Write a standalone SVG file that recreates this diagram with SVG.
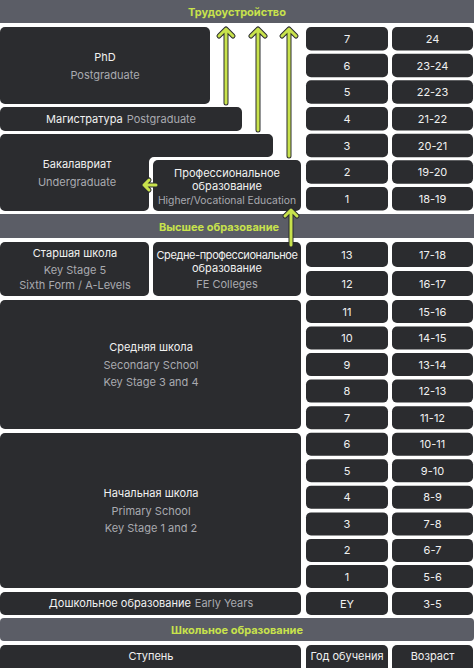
<svg xmlns="http://www.w3.org/2000/svg" width="474" height="668" viewBox="0 0 474 668">
<style>
.bx{fill:#2b2c2f}
.bar{fill:#5b5d66}
text{font-family:Inter,"Noto Sans",sans-serif;font-size:11px;text-anchor:middle;dominant-baseline:central}
.w{fill:#f1f1f1}
.g{fill:#a9aaaf}
.h{fill:#c8e24c;font-weight:700;font-size:11px}
.sm{font-size:10.3px}
.ao{fill:none;stroke:#2b2c2f;stroke-width:5;stroke-linecap:round;stroke-linejoin:round}
.ai{fill:none;stroke:#c8e24c;stroke-width:3;stroke-linecap:round;stroke-linejoin:round}
</style>
<rect width="474" height="668" fill="#ffffff"/>
<g id="bar-top"><rect class="bar" x="0" y="0" width="474" height="23"/><text class="h" x="237" y="12">Трудоустройство</text></g>
<g id="bar-higher"><rect class="bar" x="0" y="214" width="474" height="24"/><text class="h" x="219" y="227">Высшее образование</text></g>
<g id="bar-school"><rect class="bar" x="0" y="618" width="474" height="23" rx="4"/><text class="h" x="237" y="630">Школьное образование</text></g>

<g id="phd"><rect class="bx" x="0" y="27" width="210" height="77" rx="5"/><text class="w" x="105" y="57">PhD</text><text class="g" x="105" y="75">Postgraduate</text></g>
<g id="masters"><rect class="bx" x="0" y="107" width="242" height="24" rx="5"/><text x="121" y="119"><tspan class="w">Магистратура</tspan><tspan class="g" dx="4">Postgraduate</tspan></text></g>
<g id="bachelor"><path class="bx" d="M5,134 H268 A5,5 0 0 1 273,139 V152 A5,5 0 0 1 268,157 H154 A5,5 0 0 0 149,162 V206 A5,5 0 0 1 144,211 H5 A5,5 0 0 1 0,206 V139 A5,5 0 0 1 5,134 Z"/><text class="w" x="77" y="164">Бакалавриат</text><text class="g" x="77" y="182">Undergraduate</text></g>
<g id="vocational"><rect class="bx" x="153" y="160" width="148" height="51" rx="5"/><text class="w" x="227" y="173">Профессиональное</text><text class="w" x="227" y="186">образование</text><text class="g sm" x="227" y="200">Higher/Vocational Education</text></g>

<g id="sixth-form"><rect class="bx" x="0" y="242" width="149" height="54" rx="5"/><text class="w" x="75" y="253">Старшая школа</text><text class="g" x="75" y="270">Key Stage 5</text><text class="g" x="75" y="285">Sixth Form / A-Levels</text></g>
<g id="fe"><rect class="bx" x="153" y="242" width="148" height="54" rx="5"/><text class="w" x="227" y="255" letter-spacing="-0.4">Средне-профессиональное</text><text class="w" x="227" y="268">образование</text><text class="g" x="227" y="284">FE Colleges</text></g>
<g id="secondary"><rect class="bx" x="0" y="300" width="301" height="129" rx="5"/><text class="w" x="151" y="347">Средняя школа</text><text class="g" x="151" y="365">Secondary School</text><text class="g" x="151" y="382">Key Stage 3 and 4</text></g>
<g id="primary"><rect class="bx" x="0" y="433" width="301" height="155" rx="5"/><text class="w" x="151" y="493">Начальная школа</text><text class="g" x="151" y="511">Primary School</text><text class="g" x="151" y="528">Key Stage 1 and 2</text></g>
<g id="early"><rect class="bx" x="0" y="592" width="301" height="23" rx="5"/><text x="151" y="603"><tspan class="w">Дошкольное образование</tspan><tspan class="g" dx="4">Early Years</tspan></text></g>

<g id="head-stage"><rect class="bx" x="0" y="645" width="301" height="28" rx="5"/><text class="w" x="151" y="656">Ступень</text></g>
<g id="head-year"><rect class="bx" x="306" y="645" width="82" height="28" rx="5"/><text class="w" x="347" y="656">Год обучения</text></g>
<g id="head-age"><rect class="bx" x="392" y="645" width="81" height="28" rx="5"/><text class="w" x="432.5" y="656">Возраст</text></g>

<g id="rows-higher">
<rect class="bx" x="306" y="27" width="82" height="23.5" rx="5"/><rect class="bx" x="392" y="27" width="81" height="23.5" rx="5"/><text class="w" x="347" y="39">7</text><text class="w" x="432.5" y="39">24</text>
<rect class="bx" x="306" y="53.7" width="82" height="23.5" rx="5"/><rect class="bx" x="392" y="53.7" width="81" height="23.5" rx="5"/><text class="w" x="347" y="65.5">6</text><text class="w" x="432.5" y="65.5">23-24</text>
<rect class="bx" x="306" y="80.3" width="82" height="23.5" rx="5"/><rect class="bx" x="392" y="80.3" width="81" height="23.5" rx="5"/><text class="w" x="347" y="92">5</text><text class="w" x="432.5" y="92">22-23</text>
<rect class="bx" x="306" y="107" width="82" height="23.5" rx="5"/><rect class="bx" x="392" y="107" width="81" height="23.5" rx="5"/><text class="w" x="347" y="119">4</text><text class="w" x="432.5" y="119">21-22</text>
<rect class="bx" x="306" y="133.7" width="82" height="23.5" rx="5"/><rect class="bx" x="392" y="133.7" width="81" height="23.5" rx="5"/><text class="w" x="347" y="145.5">3</text><text class="w" x="432.5" y="145.5">20-21</text>
<rect class="bx" x="306" y="160.3" width="82" height="23.5" rx="5"/><rect class="bx" x="392" y="160.3" width="81" height="23.5" rx="5"/><text class="w" x="347" y="172">2</text><text class="w" x="432.5" y="172">19-20</text>
<rect class="bx" x="306" y="187" width="82" height="23.5" rx="5"/><rect class="bx" x="392" y="187" width="81" height="23.5" rx="5"/><text class="w" x="347" y="199">1</text><text class="w" x="432.5" y="199">18-19</text>
</g>
<g id="rows-school">
<rect class="bx" x="306" y="242" width="82" height="25" rx="5"/><rect class="bx" x="392" y="242" width="81" height="25" rx="5"/><text class="w" x="347" y="254.5">13</text><text class="w" x="432.5" y="254.5">17-18</text>
<rect class="bx" x="306" y="271" width="82" height="25" rx="5"/><rect class="bx" x="392" y="271" width="81" height="25" rx="5"/><text class="w" x="347" y="283.5">12</text><text class="w" x="432.5" y="283.5">16-17</text>
<rect class="bx" x="306" y="300" width="82" height="23" rx="5"/><rect class="bx" x="392" y="300" width="81" height="23" rx="5"/><text class="w" x="347" y="311.5">11</text><text class="w" x="432.5" y="311.5">15-16</text>
<rect class="bx" x="306" y="326.5" width="82" height="23" rx="5"/><rect class="bx" x="392" y="326.5" width="81" height="23" rx="5"/><text class="w" x="347" y="338">10</text><text class="w" x="432.5" y="338">14-15</text>
<rect class="bx" x="306" y="353.1" width="82" height="23" rx="5"/><rect class="bx" x="392" y="353.1" width="81" height="23" rx="5"/><text class="w" x="347" y="364.6">9</text><text class="w" x="432.5" y="364.6">13-14</text>
<rect class="bx" x="306" y="379.6" width="82" height="23" rx="5"/><rect class="bx" x="392" y="379.6" width="81" height="23" rx="5"/><text class="w" x="347" y="391.1">8</text><text class="w" x="432.5" y="391.1">12-13</text>
<rect class="bx" x="306" y="406.2" width="82" height="23" rx="5"/><rect class="bx" x="392" y="406.2" width="81" height="23" rx="5"/><text class="w" x="347" y="417.7">7</text><text class="w" x="432.5" y="417.7">11-12</text>
<rect class="bx" x="306" y="432.7" width="82" height="23" rx="5"/><rect class="bx" x="392" y="432.7" width="81" height="23" rx="5"/><text class="w" x="347" y="444.2">6</text><text class="w" x="432.5" y="444.2">10-11</text>
<rect class="bx" x="306" y="459.3" width="82" height="23" rx="5"/><rect class="bx" x="392" y="459.3" width="81" height="23" rx="5"/><text class="w" x="347" y="470.8">5</text><text class="w" x="432.5" y="470.8">9-10</text>
<rect class="bx" x="306" y="485.8" width="82" height="23" rx="5"/><rect class="bx" x="392" y="485.8" width="81" height="23" rx="5"/><text class="w" x="347" y="497.3">4</text><text class="w" x="432.5" y="497.3">8-9</text>
<rect class="bx" x="306" y="512.4" width="82" height="23" rx="5"/><rect class="bx" x="392" y="512.4" width="81" height="23" rx="5"/><text class="w" x="347" y="523.9">3</text><text class="w" x="432.5" y="523.9">7-8</text>
<rect class="bx" x="306" y="538.9" width="82" height="23" rx="5"/><rect class="bx" x="392" y="538.9" width="81" height="23" rx="5"/><text class="w" x="347" y="550.4">2</text><text class="w" x="432.5" y="550.4">6-7</text>
<rect class="bx" x="306" y="565" width="82" height="23" rx="5"/><rect class="bx" x="392" y="565" width="81" height="23" rx="5"/><text class="w" x="347" y="576.5">1</text><text class="w" x="432.5" y="576.5">5-6</text>
<rect class="bx" x="306" y="592" width="82" height="23" rx="5"/><rect class="bx" x="392" y="592" width="81" height="23" rx="5"/><text class="w" x="347" y="603.5">EY</text><text class="w" x="432.5" y="603.5">3-5</text>
</g>

<g id="connectors">
<path class="ao" d="M226,103 V29 M219,36 L226,29 L233,36"/>
<path class="ai" d="M226,103 V29 M219,36 L226,29 L233,36"/>
<path class="ao" d="M258,130 V29 M251,36 L258,29 L265,36"/>
<path class="ai" d="M258,130 V29 M251,36 L258,29 L265,36"/>
<path class="ao" d="M289,156 V29 M282,36 L289,29 L296,36"/>
<path class="ai" d="M289,156 V29 M282,36 L289,29 L296,36"/>
<path class="ao" d="M291,245 V210 M285,216 L291,210 L297,216"/>
<path class="ai" d="M291,245 V210 M285,216 L291,210 L297,216"/>
<path class="ao" d="M156,185 H144 M149,180 L144,185 L149,190"/>
<path class="ai" d="M156,185 H144 M149,180 L144,185 L149,190"/>
</g>
</svg>
